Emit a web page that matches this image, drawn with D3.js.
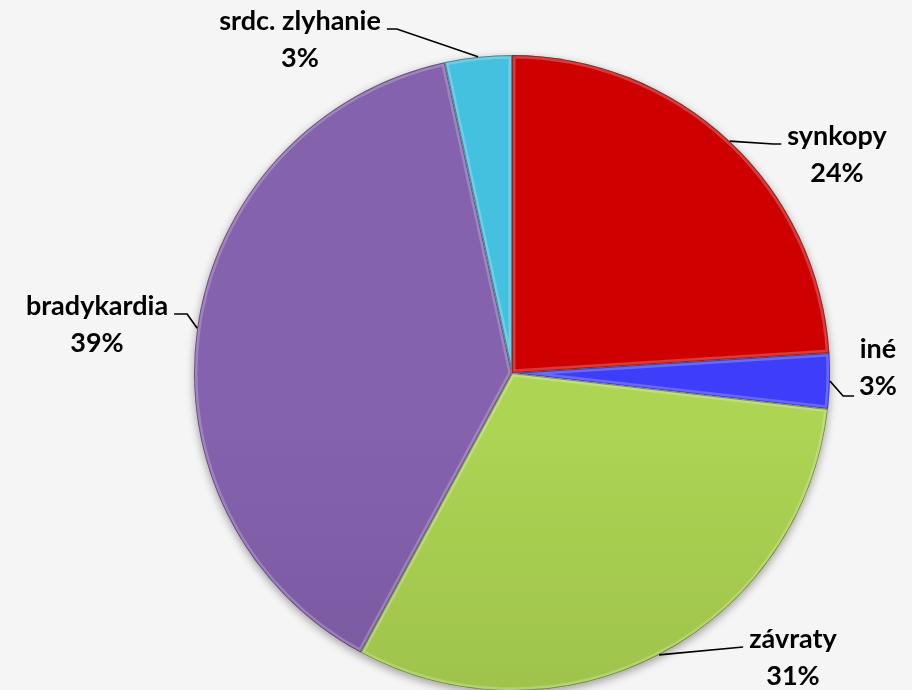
<!DOCTYPE html>
<html>
<head>
<meta charset="utf-8">
<script src="https://cdn.jsdelivr.net/npm/d3@7"></script>
<style>
  html, body { margin: 0; padding: 0; background: #f5f5f5; }
  svg { display: block; }
  .label { font-family: Lato, "Open Sans", sans-serif; font-weight: 700; font-size: 27px; fill: #000; }
</style>
</head>
<body>
<div id="chart"></div>
<script>
// data, clockwise from 12 o'clock
const categories = ["synkopy", "iné", "závraty", "bradykardia", "srdc. zlyhanie"];
const shares = [24.0, 2.8, 31.1, 38.7, 3.4];

// slice colours (top, bottom of gradient)
const colorsTop = ["#cf0303", "#3d3dfa", "#add453", "#8562ae", "#45c1e0"];
const colorsBottom = ["#c40000", "#3030ea", "#8bab42", "#6a4c8e", "#37aecd"];

// label layout: centre x, first baseline y, side the leader comes from
const labelLayout = [
  { x: 837, y: 145, side: "left", elbow: 8 },
  { x: 878, y: 358, side: "left", lineY: 396, elbow: 11 },
  { x: 793, y: 648, side: "left", elbow: 0 },
  { x: 97, y: 315, side: "right", elbow: 13 },
  { x: 300, y: 30, side: "right", elbow: 10 }
];

const width = 912, height = 690;
const cx = 512, cy = 373, radius = 318;

const svg = d3.select("#chart").append("svg")
  .attr("width", width)
  .attr("height", height);

const defs = svg.append("defs");

const shadow = defs.append("filter")
  .attr("id", "shadow")
  .attr("x", "-10%").attr("y", "-10%")
  .attr("width", "120%").attr("height", "120%");
shadow.append("feDropShadow")
  .attr("dx", 0).attr("dy", 3)
  .attr("stdDeviation", 4)
  .attr("flood-color", "#000")
  .attr("flood-opacity", 0.35);

categories.forEach((c, i) => {
  const g = defs.append("linearGradient")
    .attr("id", "grad" + i)
    .attr("gradientUnits", "userSpaceOnUse")
    .attr("x1", 0).attr("y1", cy - radius)
    .attr("x2", 0).attr("y2", cy + radius);
  g.append("stop").attr("offset", "0%").attr("stop-color", colorsTop[i]);
  g.append("stop").attr("offset", "100%").attr("stop-color", colorsBottom[i]);
});

const pie = d3.pie()
  .value(d => d)
  .sort(null);

const arcs = pie(shares);

const arc = d3.arc()
  .innerRadius(0)
  .outerRadius(radius);

const chart = svg.append("g")
  .attr("transform", `translate(${cx},${cy})`);

const slices = chart.append("g")
  .attr("filter", "url(#shadow)");

arcs.forEach((d, i) => {
  defs.append("clipPath")
    .attr("id", "clip" + i)
    .append("path")
    .attr("d", arc(d));
});

const slice = slices.selectAll(".slice")
  .data(arcs)
  .enter().append("g")
  .attr("class", "slice");

slice.append("path")
  .attr("d", arc)
  .attr("fill", (d, i) => `url(#grad${i})`);

// bevel: light inner band and a thin dark rim
slice.append("path")
  .attr("d", arc)
  .attr("clip-path", (d, i) => `url(#clip${i})`)
  .attr("fill", "none")
  .attr("stroke", "#fff")
  .attr("stroke-opacity", 0.22)
  .attr("stroke-width", 7)
  .attr("stroke-linejoin", "round");

slice.append("path")
  .attr("d", arc)
  .attr("clip-path", (d, i) => `url(#clip${i})`)
  .attr("fill", "none")
  .attr("stroke", "#000")
  .attr("stroke-opacity", 0.35)
  .attr("stroke-width", 2)
  .attr("stroke-linejoin", "round");

// labels
const labels = svg.append("g");
const lineH = 37;

arcs.forEach((d, i) => {
  const L = labelLayout[i];
  const t = labels.append("text")
    .attr("class", "label")
    .attr("text-anchor", "middle");
  t.append("tspan").attr("x", L.x).attr("y", L.y).text(categories[i]);
  const pct = t.append("tspan").attr("x", L.x).attr("y", L.y + lineH)
    .text(Math.round(d.value) + "%");

  // leader line from the arc edge at the slice's mid angle
  const a = (d.startAngle + d.endAngle) / 2;
  const sx = cx + radius * Math.sin(a);
  const sy = cy - radius * Math.cos(a);

  const firstW = t.select("tspan").node().getComputedTextLength();
  let ex, ey;
  if (L.lineY) {
    const pw = pct.node().getComputedTextLength();
    ey = L.lineY;
    ex = L.side === "left" ? L.x - pw / 2 - 5 : L.x + pw / 2 + 5;
  } else {
    ey = L.y - 1;
    ex = L.side === "left" ? L.x - firstW / 2 - 6 : L.x + firstW / 2 + 6;
  }
  const elbowX = L.side === "left" ? ex - L.elbow : ex + L.elbow;
  labels.append("path")
    .attr("d", `M${sx},${sy}L${elbowX},${ey}L${ex},${ey}`)
    .attr("fill", "none")
    .attr("stroke", "#000")
    .attr("stroke-width", 1.7);
});
</script>
</body>
</html>
